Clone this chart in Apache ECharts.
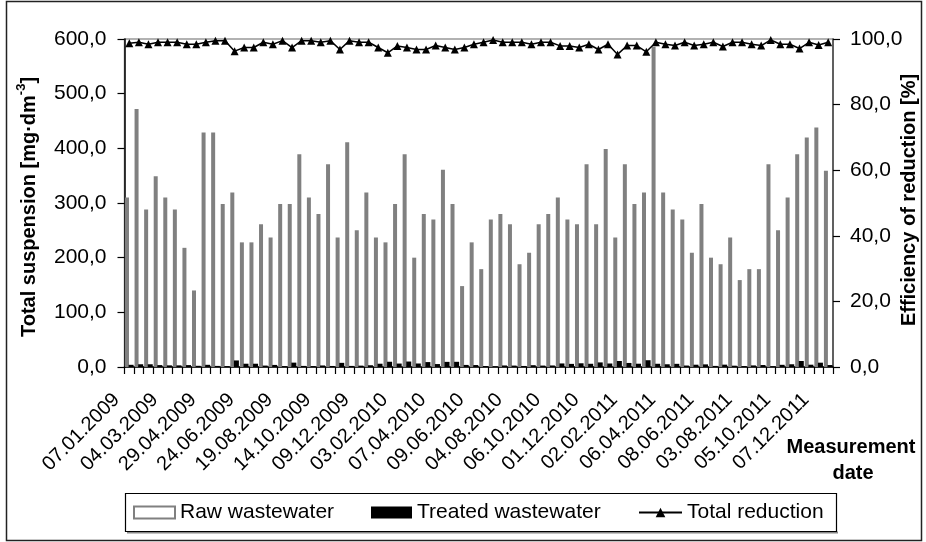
<!DOCTYPE html>
<html>
<head>
<meta charset="utf-8">
<script src="https://cdn.jsdelivr.net/npm/echarts@6/dist/echarts.min.js"></script>
<style>html,body{margin:0;padding:0;background:#fff;}#c{width:926px;height:542px;}</style>
</head>
<body>
<div id="c"></div>
<script>
const dateLabels = ['07.01.2009','04.03.2009','29.04.2009','24.06.2009','19.08.2009','14.10.2009','09.12.2009','03.02.2010','07.04.2010','09.06.2010','04.08.2010','06.10.2010','01.12.2010','02.02.2011','06.04.2011','08.06.2011','03.08.2011','05.10.2011','07.12.2011'];
const rawWastewater = [310,472,288,349,310,288,218,140,429,429,298,319,228,228,261,237,298,298,389,310,280,371,237,411,250,319,237,228,298,389,200,280,270,361,298,148,228,179,270,280,261,188,209,261,280,310,270,261,371,261,399,237,371,298,319,586,319,288,270,209,298,200,188,237,159,179,179,371,250,310,389,420,438,359];
const treatedWastewater = [4,5,5,3.5,3,3,3.5,2.2,4,2,1.5,12,6,6,2.6,3.8,1.5,8,2,1.5,2.8,1.9,7.6,2,2.5,3.2,6,9.6,6.3,10,6.4,9,5.4,9.4,9.5,3.8,3.6,1.8,1,2.8,2.6,1.9,3.3,2.6,2.8,6.5,5.7,6.8,5.9,8.4,6.4,11,7.4,6,12.4,5.9,5,5.8,2.7,4.2,4.8,2,4.3,2.4,1.6,2.9,3.6,1.1,4,5,11,4.2,7.9,3.6];
const totalReduction = [98.7,99.0,98.4,99.0,99.0,99.0,98.4,98.4,99.0,99.5,99.5,96.3,97.4,97.4,99.0,98.4,99.5,97.4,99.5,99.5,99.0,99.5,96.8,99.5,99.0,99.0,97.4,95.8,97.9,97.4,96.8,96.8,98.0,97.4,96.8,97.4,98.4,99.0,99.7,99.0,99.0,99.0,98.4,99.0,99.0,97.9,97.9,97.4,98.4,96.8,98.4,95.3,98.0,98.0,96.1,99.0,98.4,98.0,99.0,98.0,98.4,99.0,97.7,99.0,99.0,98.4,98.0,99.7,98.4,98.4,97.1,99.0,98.2,99.0];
const labelEvery = 4;

const categories = rawWastewater.map((_, i) => String(i));
const fmt = v => v.toFixed(1).replace('.', ',');
const FONT = '"Liberation Sans", Arial, sans-serif';

const chart = echarts.init(document.getElementById('c'), null, {renderer: 'canvas'});
chart.setOption({
  animation: false,
  backgroundColor: '#fff',
  textStyle: {fontFamily: FONT, color: '#000'},
  grid: {left: 124.5, right: 93, top: 39, bottom: 175, show: true, borderColor: '#999', borderWidth: 1.5},
  xAxis: {
    type: 'category',
    data: categories,
    boundaryGap: true,
    axisLine: {lineStyle: {color: '#000', width: 1.5}},
    axisTick: {show: true, interval: 0, length: 7, lineStyle: {color: '#000', width: 1.2}},
    axisLabel: {
      interval: 0, rotate: 45, fontSize: 20, color: '#000', fontFamily: FONT,
      margin: 17, padding: [0, 18, 0, 0],
      formatter: (v, i) => (i % labelEvery === 0 ? dateLabels[i / labelEvery] : '')
    },
    splitLine: {show: false}
  },
  yAxis: [
    {
      type: 'value', min: 0, max: 600, interval: 100,
      axisLine: {show: true, lineStyle: {color: '#000', width: 1.5}},
      axisTick: {show: true, length: 7, lineStyle: {color: '#000', width: 1.2}},
      axisLabel: {fontSize: 21, color: '#000', margin: 18, formatter: fmt, fontFamily: FONT},
      splitLine: {show: false}
    },
    {
      type: 'value', min: 0, max: 100, interval: 20, position: 'right',
      axisLine: {show: true, lineStyle: {color: '#444', width: 1.5}},
      axisTick: {show: true, length: 7, lineStyle: {color: '#000', width: 1.2}},
      axisLabel: {fontSize: 21, color: '#000', margin: 17, formatter: fmt, fontFamily: FONT},
      splitLine: {show: false}
    }
  ],
  legend: [
    {data: [{name: 'Raw wastewater', icon: 'rect'}], left: 133, top: 502, padding: 0, itemWidth: 41, itemHeight: 12,
     textStyle: {fontSize: 21, color: '#000', fontFamily: FONT}},
    {data: [{name: 'Treated wastewater', icon: 'rect'}], left: 371, top: 502, padding: 0, itemWidth: 41, itemHeight: 12,
     textStyle: {fontSize: 21, color: '#000', fontFamily: FONT}},
    {data: ['Total reduction'], left: 638, top: 502, padding: 0, itemWidth: 43, itemHeight: 12,
     textStyle: {fontSize: 21, color: '#000', fontFamily: FONT}}
  ],
  series: [
    {
      name: 'Raw wastewater', type: 'bar', data: rawWastewater, barWidth: 4, barGap: '-10%',
      itemStyle: {color: '#fff', borderColor: '#808080', borderWidth: 2.4}
    },
    {
      name: 'Treated wastewater', type: 'bar', data: treatedWastewater, barWidth: 5,
      itemStyle: {color: '#000', borderColor: '#000', borderWidth: 0}
    },
    {
      name: 'Total reduction', type: 'line', yAxisIndex: 1, data: totalReduction,
      symbol: 'triangle', symbolSize: 8, z: 5,
      lineStyle: {color: '#000', width: 1.5},
      itemStyle: {color: '#000'}
    }
  ],
  graphic: [
    {type: 'rect', shape: {x: 6.5, y: 1.5, width: 915, height: 539}, style: {fill: 'none', stroke: '#222', lineWidth: 1.5}, silent: true},
    {type: 'line', shape: {x1: 127, y1: 532.5, x2: 838, y2: 532.5}, style: {stroke: '#888', lineWidth: 2}},
    {type: 'rect', shape: {x: 125.5, y: 493.5, width: 711, height: 38}, style: {fill: 'none', stroke: '#000', lineWidth: 1.2}},
    {
      type: 'text', x: 27, y: 207, rotation: Math.PI / 2,
      style: {
        text: '{b|Total suspension [mg·dm}{s|-3}{b|]}',
        align: 'center', verticalAlign: 'middle',
        rich: {
          b: {fontSize: 20, fontWeight: 'bold', fontFamily: FONT, fill: '#000', lineHeight: 24, verticalAlign: 'bottom'},
          s: {fontSize: 13, fontWeight: 'bold', fontFamily: FONT, fill: '#000', lineHeight: 24, verticalAlign: 'top'}
        }
      }
    },
    {
      type: 'text', x: 909, y: 200, rotation: Math.PI / 2,
      style: {text: 'Efficiency of reduction [%]', align: 'center', verticalAlign: 'middle',
        fontSize: 20, fontWeight: 'bold', fontFamily: FONT, fill: '#000'}
    },
    {
      type: 'text', x: 851, y: 447,
      style: {text: 'Measurement', align: 'center', verticalAlign: 'middle',
        fontSize: 20, fontWeight: 'bold', fontFamily: FONT, fill: '#000'}
    },
    {
      type: 'text', x: 853, y: 473,
      style: {text: 'date', align: 'center', verticalAlign: 'middle',
        fontSize: 20, fontWeight: 'bold', fontFamily: FONT, fill: '#000'}
    }
  ]
});
</script>
</body>
</html>
